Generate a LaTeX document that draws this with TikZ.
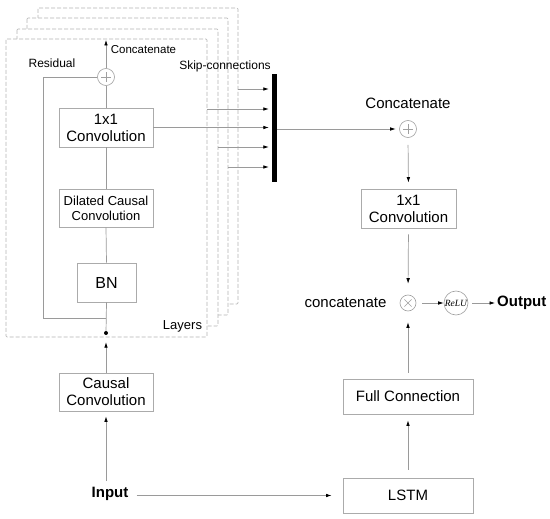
\documentclass[tikz,border=0pt]{standalone}
\usepackage{fontspec}
\setmainfont{Liberation Sans}
\newfontfamily\relufont{Liberation Serif}
\usetikzlibrary{arrows.meta,calc}
\definecolor{lineg}{HTML}{9A9A9A}
\definecolor{boxg}{HTML}{ABABAB}
\definecolor{dashg}{HTML}{B4B4B4}
\definecolor{circg}{HTML}{A0A0A0}
\begin{document}
\begin{tikzpicture}[x=1pt,y=-1pt,
  ln/.style={draw=lineg, line width=0.7pt},
  arr/.style={ln, -{Latex[length=5.5pt,width=3.6pt,color=black]}},
  dbox/.style={draw=dashg, line width=0.7pt, dash pattern=on 4pt off 2pt, fill=white, rounded corners=1pt},
  box/.style={rectangle, draw=boxg, line width=0.8pt, fill=white, align=center, inner sep=0pt, font=\fontsize{15}{17}\selectfont},
  opcirc/.style={circle, draw=circg, line width=0.6pt, minimum size=17pt, inner sep=0pt},
  plussign/.style={opcirc, path picture={
      \draw[circg, line width=0.6pt] ($(path picture bounding box.center)+(-5pt,0pt)$) -- ++(10pt,0pt);
      \draw[circg, line width=0.6pt] ($(path picture bounding box.center)+(0pt,-5pt)$) -- ++(0pt,10pt);}},
  timessign/.style={opcirc, path picture={
      \draw[circg, line width=0.6pt] ($(path picture bounding box.center)+(-3.6pt,-3.6pt)$) -- ++(7.2pt,7.2pt);
      \draw[circg, line width=0.6pt] ($(path picture bounding box.center)+(-3.6pt,3.6pt)$) -- ++(7.2pt,-7.2pt);}},
  lbl/.style={inner sep=0pt, font=\fontsize{15}{17}\selectfont},
  smalllbl/.style={inner sep=0pt, font=\fontsize{12}{14}\selectfont}
]
\useasboundingbox (0,0) rectangle (550,519);

% stacked layer frames
\draw[dbox] (38,8) rectangle (238,304);
\draw[dbox] (27,18) rectangle (228,315);
\draw[dbox] (17,29) rectangle (218,326);
\draw[dbox] (6,39) rectangle (207,337);

% inner layer nodes
\node[plussign] (plusL) at (106,77) {};
\node[box, minimum width=94pt, minimum height=39pt] (conv1) at (106,127.5) {1x1\\Convolution};
\node[box, minimum width=94pt, minimum height=38pt, font=\fontsize{13}{15}\selectfont] (dil) at (106,208) {Dilated Causal\\Convolution};
\node[box, minimum width=59pt, minimum height=39pt, font=\fontsize{16}{18}\selectfont] (bn) at (106.5,282.5) {BN};
\node[circle, fill=black, minimum size=4pt, inner sep=0pt] (dot) at (106,333) {};

\node[smalllbl, font=\fontsize{11.5}{13}\selectfont] (cat1) at (143.5,50) {Concatenate};
\node[smalllbl] (res) at (52,63) {Residual};
\node[smalllbl] (skip) at (225,66) {Skip-connections};
\node[smalllbl, font=\fontsize{13}{15}\selectfont] (layers) at (182.5,326) {Layers};

\coordinate (ctop) at (106,40);
\coordinate (rc) at (106,318);
\draw[arr] (plusL.north) -- (ctop);
\draw[ln] (conv1.north) -- (plusL.south);
\draw[ln] (dil.north) -- (conv1.south);
\draw[ln] (bn.north) -- (dil.south);
\draw[ln] (bn.south) -- (dot);
\draw[ln] (plusL.west) -| (43,318) -- (rc);

% bottom left
\node[box, minimum width=94pt, minimum height=38pt] (causal) at (106,392) {Causal\\Convolution};
\node[lbl, font=\fontsize{15}{17}\selectfont\bfseries] (input) at (110,494) {Input};
\draw[arr, shorten >=7pt] (causal.north) -- (dot.south);
\draw[arr, shorten <=6pt, shorten >=5pt] (input.north -| causal.south) -- (causal.south);

% skip bar
\node[fill=black, minimum width=5pt, minimum height=108pt, inner sep=0pt] (bar) at (274.5,128) {};
\coordinate (s1) at (238,89);
\coordinate (s2) at (207,109);
\coordinate (s4) at (218,147);
\coordinate (s5) at (228,167);
\draw[arr, shorten >=3pt] (s1) -- (s1 -| bar.west);
\draw[arr, shorten >=3pt] (s2) -- (s2 -| bar.west);
\draw[arr, shorten >=3pt] (conv1.east) -- (conv1.east -| bar.west);
\draw[arr, shorten >=3pt] (s4) -- (s4 -| bar.west);
\draw[arr, shorten >=3pt] (s5) -- (s5 -| bar.west);

% right column
\node[plussign] (plusR) at (408,129) {};
\node[lbl] (cat2) at (408,103) {Concatenate};
\node[box, minimum width=95pt, minimum height=39pt] (conv2) at (408.5,208.5) {1x1\\Convolution};
\node[timessign, minimum size=16pt] (times) at (408,303) {};
\node[lbl] (cat3) at (345.5,303) {concatenate};
\node[opcirc, minimum size=24pt] (relu) at (456,303) {\relufont\itshape\fontsize{9.5}{10}\selectfont ReLU};
\node[lbl, font=\fontsize{15}{17}\selectfont\bfseries, anchor=west] (out) at (497,303) {Output};
\node[box, minimum width=130pt, minimum height=35pt] (fc) at (408,396.5) {Full Connection};
\node[box, minimum width=130pt, minimum height=35pt] (lstm) at (408,495.5) {LSTM};

\draw[arr, shorten >=3.5pt] (bar.east |- plusR) -- (plusR.west);
\draw[arr, shorten <=7pt, shorten >=6pt] (plusR.south) -- (conv2.north);
\draw[arr, shorten <=6pt, shorten >=11pt] (conv2.south) -- (times.north);
\draw[arr, shorten <=6pt, shorten >=11pt] (fc.north) -- (times.south);
\draw[arr, shorten <=6pt] (times.east) -- (relu.west);
\draw[arr, shorten <=4pt, shorten >=2pt] (relu.east) -- (out.west);
\draw[arr, shorten <=8pt, shorten >=6pt] (lstm.north) -- (fc.south);
\draw[arr, shorten <=8pt, shorten >=11pt] (input.east |- lstm.west) -- (lstm.west);
\end{tikzpicture}
\end{document}
